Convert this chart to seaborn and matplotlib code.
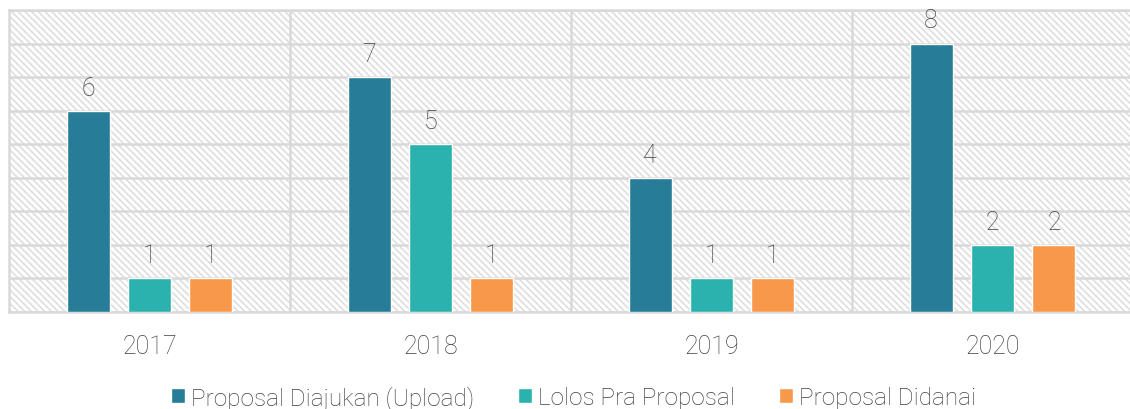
import pandas as pd
import matplotlib
matplotlib.use("Agg")
import matplotlib.pyplot as plt
import seaborn as sns

# data
years = ["2017", "2018", "2019", "2020"]
diajukan = [6, 7, 4, 8]
lolos = [1, 5, 1, 2]
didanai = [1, 1, 1, 2]
series = ["Proposal Diajukan (Upload)", "Lolos Pra Proposal", "Proposal Didanai"]
colors = ["#277C97", "#2BB2AE", "#F7984A"]

df = pd.DataFrame({
    "Tahun": years * 3,
    "Jumlah": diajukan + lolos + didanai,
    "Seri": [series[0]] * 4 + [series[1]] * 4 + [series[2]] * 4,
})

sns.set_style("white")
plt.rcParams["font.family"] = ["Roboto", "DejaVu Sans"]
plt.rcParams["hatch.color"] = "#DEDEDE"
plt.rcParams["hatch.linewidth"] = 1.2

txt_color = "#404040"

fig = plt.figure(figsize=(11.3, 4.1), dpi=100)
ax = fig.add_axes([9 / 1130, 1 - 313 / 410, 1124 / 1130, 302 / 410])

# hatched background
ax.patch.set_facecolor("white")
ax.patch.set_hatch("\\" * 5)
ax.patch.set_edgecolor("#DEDEDE")

sns.barplot(data=df, x="Tahun", y="Jumlah", hue="Seri", palette=colors,
            width=0.656, gap=0.3, saturation=1, ax=ax, zorder=3)

ax.set_ylim(0, 9)
ax.set_xlim(-0.5, 3.5)
ax.set_yticks(range(0, 10))
ax.set_yticklabels([])
ax.tick_params(axis="y", length=0)
ax.tick_params(axis="x", length=0, labelsize=18, labelcolor=txt_color, pad=16)
for lbl in ax.get_xticklabels():
    lbl.set_fontweight("light")
ax.grid(axis="y", color="#D9D9D9", linewidth=1.8, zorder=1)
for x in [0.5, 1.5, 2.5]:
    ax.axvline(x, color="#D9D9D9", linewidth=1.8, zorder=1)
for s in ax.spines.values():
    s.set_color("#D9D9D9")
    s.set_linewidth(1.8)
ax.set_xlabel("")
ax.set_ylabel("")

for cont in ax.containers:
    ax.bar_label(cont, padding=8, fontsize=18, color=txt_color, fontweight="light")

# legend, left edge placed like the reference
handles, labels = ax.get_legend_handles_labels()
ax.legend(handles, labels, loc="lower left", bbox_to_anchor=(171 / 1130, -0.002),
          bbox_transform=fig.transFigure, borderpad=0, borderaxespad=0,
          ncol=3, frameon=False, handlelength=0.58, handleheight=0.58,
          handletextpad=0.25, columnspacing=1.8, labelcolor=txt_color,
          prop={"weight": "light", "size": 17.5})

fig.savefig("out.png", dpi=100)
